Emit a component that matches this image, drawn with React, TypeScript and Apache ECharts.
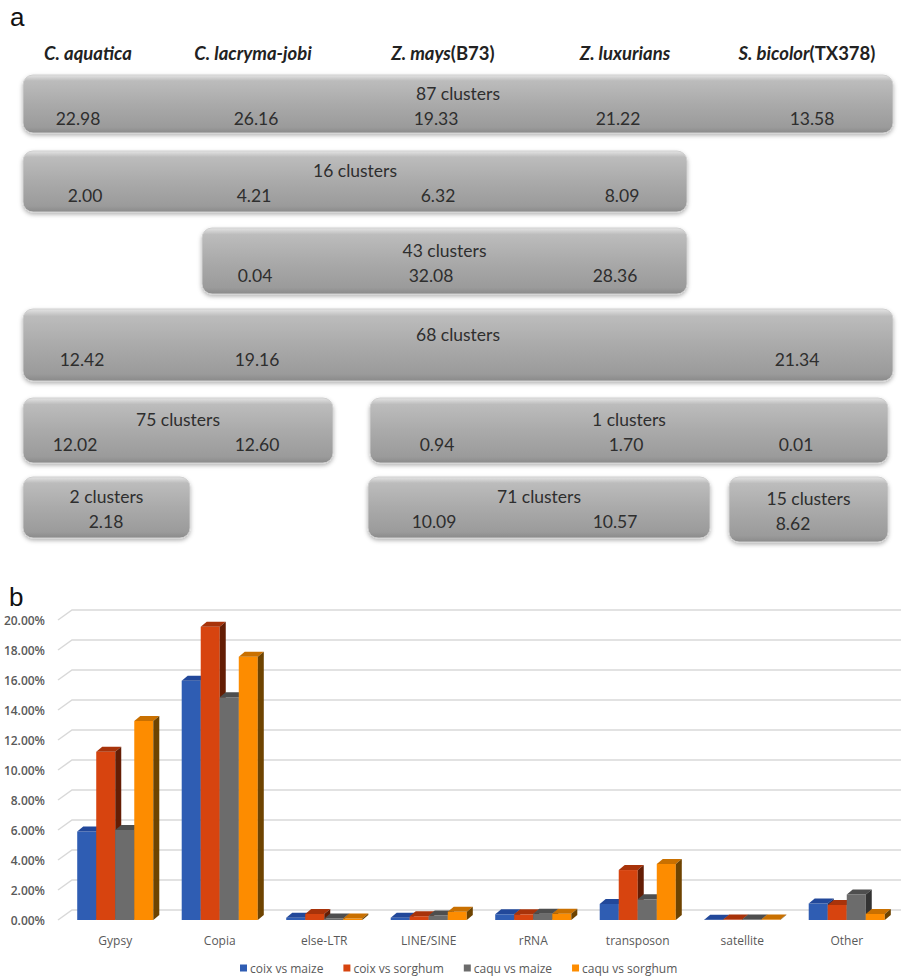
import React, { useEffect, useRef } from "react";
import * as echarts from "echarts";

// ---------- Panel a data ----------
const speciesNames = ["C. aquatica", "C. lacryma-jobi", "Z. mays", "Z. luxurians", "S. bicolor"];
const speciesStrains = ["", "", "(B73)", "", "(TX378)"];
const clusterCounts = [87, 16, 43, 68, 75, 1, 2, 71, 15];
const clusterValues: number[][] = [
  [22.98, 26.16, 19.33, 21.22, 13.58],
  [2.0, 4.21, 6.32, 8.09],
  [0.04, 32.08, 28.36],
  [12.42, 19.16, 21.34],
  [12.02, 12.6],
  [0.94, 1.7, 0.01],
  [2.18],
  [10.09, 10.57],
  [8.62],
];

// ---------- Panel b data ----------
const categories = ["Gypsy", "Copia", "else-LTR", "LINE/SINE", "rRNA", "transposon", "satellite", "Other"];
const seriesNames = ["coix vs maize", "coix vs sorghum", "caqu vs maize", "caqu vs sorghum"];
const coixVsMaize = [5.9, 15.95, 0.15, 0.15, 0.38, 1.07, 0.02, 1.1];
const coixVsSorghum = [11.22, 19.55, 0.4, 0.25, 0.38, 3.33, 0.03, 1.0];
const caquVsMaize = [6.0, 14.85, 0.1, 0.3, 0.42, 1.38, 0.03, 1.7];
const caquVsSorghum = [13.27, 17.55, 0.1, 0.55, 0.42, 3.73, 0.03, 0.4];
const yTicks = [0, 2, 4, 6, 8, 10, 12, 14, 16, 18, 20];

// ---------- layout (positions/styles kept separate) ----------
const headerX = [88, 253, 443, 625, 807];
const boxRects = [
  [23, 75, 870, 58],
  [23, 151, 664, 61],
  [202, 228, 485, 66],
  [23, 309, 870, 72],
  [23, 398, 310, 65],
  [370, 398, 518, 65],
  [23, 477, 167, 61],
  [368, 477, 342, 61],
  [729, 477, 159, 65],
];
const valueXs = [
  [78, 256, 436, 618, 812],
  [85, 254, 438, 622],
  [255, 431, 615],
  [82, 257, 797],
  [75, 257],
  [437, 626, 796],
  [106],
  [434, 615],
  [793],
];
const frontColors = ["#2f5db3", "#d7440f", "#6c6c6c", "#fd8c00"];
const topColors = ["#22489a", "#a8330a", "#4e4e4e", "#c97000"];
const sideColors = ["#17316b", "#641d04", "#333333", "#6e4300"];
const DX = 6;
const DY = 5;
const BOX_FONT = 17.5;

function buildGraphic() {
  const els: any[] = [];
  els.push({
    type: "text",
    x: 10,
    y: 4,
    style: { text: "a", fontSize: 26, fontFamily: "Liberation Sans, Arial", fill: "#111" },
  });
  els.push({
    type: "text",
    x: 9,
    y: 584,
    style: { text: "b", fontSize: 26, fontFamily: "Liberation Sans, Arial", fill: "#111" },
  });
  speciesNames.forEach((n, i) => {
    els.push({
      type: "text",
      x: headerX[i],
      y: 53,
      style: {
        text: "{bi|" + n + "}" + (speciesStrains[i] ? "{b|" + speciesStrains[i] + "}" : ""),
        align: "center",
        verticalAlign: "middle",
        rich: {
          bi: { fontSize: 18.5, fontWeight: "bold", fontStyle: "italic", fontFamily: "Lato", fill: "#222" },
          b: { fontSize: 18.5, fontWeight: "bold", fontFamily: "Lato", fill: "#222" },
        },
      },
    });
  });
  boxRects.forEach((r, i) => {
    const [x, y, w, h] = r;
    els.push({
      type: "rect",
      shape: { x, y, width: w, height: h, r: 10 },
      style: {
        fill: new echarts.graphic.LinearGradient(0, 0, 0, 1, [
          { offset: 0, color: "#e4e4e4" },
          { offset: 0.1, color: "#bcbcbc" },
          { offset: 0.5, color: "#aaaaaa" },
          { offset: 0.9, color: "#9b9b9b" },
          { offset: 1, color: "#8a8a8a" },
        ]),
        stroke: "#cfcfcf",
        lineWidth: 1,
        shadowBlur: 4,
        shadowOffsetY: 2,
        shadowColor: "rgba(0,0,0,0.3)",
      },
    });
    const cy = y + h / 2;
    els.push({
      type: "text",
      x: x + w / 2,
      y: cy - 11,
      style: {
        text: clusterCounts[i] + " clusters",
        align: "center",
        verticalAlign: "middle",
        fontSize: BOX_FONT,
        fontFamily: "Lato",
        fill: "#2e2e2e",
      },
    });
    clusterValues[i].forEach((v, j) => {
      els.push({
        type: "text",
        x: valueXs[i][j],
        y: cy + 14,
        style: {
          text: v.toFixed(2),
          align: "center",
          verticalAlign: "middle",
          fontSize: BOX_FONT,
          fontFamily: "Lato",
          fill: "#2e2e2e",
        },
      });
    });
  });
  return els;
}

function makeBarRender(s: number) {
  return (params: any, api: any) => {
    const ci = api.value(0);
    const v = api.value(1);
    const base = api.coord([ci, 0]);
    const top = api.coord([ci, v]);
    const band = api.size([1, 0])[0];
    const w = band * 0.182;
    const x0 = base[0] - 2 * w + s * w;
    const yT = top[1];
    const yB = base[1];
    return {
      type: "group",
      children: [
        { type: "rect", shape: { x: x0, y: yT, width: w, height: yB - yT }, style: { fill: frontColors[s] } },
        {
          type: "polygon",
          shape: { points: [[x0, yT], [x0 + DX, yT - DY], [x0 + w + DX, yT - DY], [x0 + w, yT]] },
          style: { fill: topColors[s] },
        },
        {
          type: "polygon",
          shape: { points: [[x0 + w, yT], [x0 + w + DX, yT - DY], [x0 + w + DX, yB - DY], [x0 + w, yB]] },
          style: { fill: sideColors[s] },
        },
      ],
    };
  };
}

export default function App() {
  const ref = useRef<HTMLDivElement>(null);
  useEffect(() => {
    if (!ref.current) return;
    const chart = echarts.init(ref.current, undefined, { renderer: "svg" });
    const allSeries = [coixVsMaize, coixVsSorghum, caquVsMaize, caquVsSorghum];
    const option: any = {
      animation: false,
      backgroundColor: "#ffffff",
      graphic: buildGraphic(),
      grid: { left: 63, width: 836, top: 620, height: 300 },
      legend: {
        data: seriesNames,
        left: 240,
        top: 962,
        padding: 0,
        itemWidth: 7,
        itemHeight: 7,
        itemGap: 20,
        icon: "rect",
        textStyle: { fontSize: 12, fontFamily: "Open Sans", color: "#595959", padding: [0, 0, 0, -2] },
      },
      xAxis: {
        type: "category",
        data: categories,
        axisLine: { show: false },
        axisTick: { show: false },
        axisLabel: { margin: 14, fontSize: 12, fontFamily: "Open Sans", color: "#595959", interval: 0 },
      },
      yAxis: {
        type: "value",
        min: 0,
        max: 20,
        interval: 2,
        splitLine: { show: false },
        axisLine: { show: false },
        axisTick: { show: false },
        axisLabel: {
          margin: 18,
          fontSize: 12,
          fontWeight: 600,
          fontFamily: "Open Sans",
          color: "#595959",
          formatter: (v: number) => v.toFixed(2) + "%",
        },
      },
      series: [
        {
          type: "custom",
          name: "grid-lines",
          silent: true,
          z: 1,
          clip: false,
          data: yTicks.map((v) => [0, v]),
          encode: { x: 0, y: 1 },
          renderItem: (params: any, api: any) => {
            const cs = params.coordSys;
            const y = api.coord([0, api.value(1)])[1];
            return {
              type: "polyline",
              shape: { points: [[cs.x - 5, y], [cs.x + 9, y - 10], [cs.x + cs.width + 20, y - 10]] },
              style: { stroke: "#d9d9d9", lineWidth: 1.5, fill: null },
            };
          },
        },
        ...allSeries.map((vals, s) => ({
          type: "custom",
          name: seriesNames[s],
          z: 2 + s,
          clip: false,
          itemStyle: { color: frontColors[s] },
          data: categories.map((_, i) => [i, vals[i]]),
          encode: { x: 0, y: 1 },
          renderItem: makeBarRender(s),
        })),
      ],
    };
    chart.setOption(option);
    return () => chart.dispose();
  }, []);
  return (
    <div
      ref={ref}
      style={{ position: "fixed", left: 0, top: 0, width: 901, height: 977, background: "#fff" }}
    />
  );
}
